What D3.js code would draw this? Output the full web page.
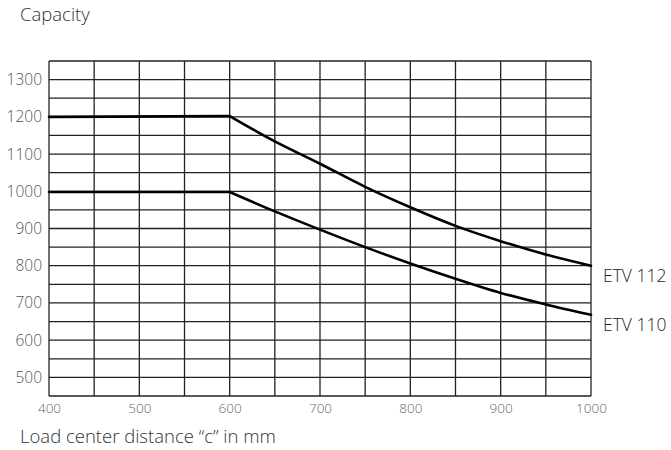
<!DOCTYPE html>
<html>
<head>
<meta charset="utf-8">
<script src="https://d3js.org/d3.v7.min.js"></script>
<style>
  body { margin: 0; background: #fff; }
  svg { display: block; font-family: "Open Sans", Lato, sans-serif; }
</style>
</head>
<body>
<div id="chart"></div>
<script>
// data
var distances = [400, 600, 650, 700, 750, 800, 850, 900, 950, 1000];
var etv112 = [1200, 1202, 1134, 1074, 1012, 957, 907, 866, 830, 800];
var etv110 = [998, 998, 946, 897, 850, 806, 765, 727, 696, 668];
var seriesNames = ["ETV 112", "ETV 110"];
var xTicks = [400, 500, 600, 700, 800, 900, 1000];
var yTicks = [500, 600, 700, 800, 900, 1000, 1100, 1200, 1300];

var width = 671, height = 450;
var margin = {top: 61, right: 80, bottom: 54, left: 49};
var w = width - margin.left - margin.right,
    h = height - margin.top - margin.bottom;

var svg = d3.select("#chart").append("svg")
    .attr("width", width)
    .attr("height", height);

var g = svg.append("g")
    .attr("transform", "translate(" + margin.left + "," + margin.top + ")");

//////// SCALES ////////
var x = d3.scaleLinear().domain([400, 1000]).range([0, w]);
var y = d3.scaleLinear().domain([450, 1350]).range([h, 0]);

//////// GRID ////////
g.append("g").attr("class", "grid")
    .selectAll("line.v")
    .data(d3.range(400, 1001, 50))
    .enter().append("line")
        .attr("x1", function(d) { return x(d); })
        .attr("x2", function(d) { return x(d); })
        .attr("y1", 0)
        .attr("y2", h)
        .attr("stroke", "#222")
        .attr("stroke-width", 1.3);

g.append("g").attr("class", "grid")
    .selectAll("line.h")
    .data(d3.range(450, 1351, 50))
    .enter().append("line")
        .attr("x1", 0)
        .attr("x2", w)
        .attr("y1", function(d) { return y(d); })
        .attr("y2", function(d) { return y(d); })
        .attr("stroke", "#222")
        .attr("stroke-width", 1.3);

//////// AXES ////////
var xAxis = g.append("g")
    .attr("transform", "translate(0," + h + ")")
    .call(d3.axisBottom(x).tickValues(xTicks).tickFormat(d3.format("d")).tickSize(0).tickPadding(7));
xAxis.select(".domain").remove();
xAxis.selectAll("text")
    .attr("fill", "#666")
    .attr("font-size", 13.5)
    .attr("font-weight", 300)
    .attr("font-family", "'Open Sans', Lato, sans-serif");

var yAxis = g.append("g")
    .call(d3.axisLeft(y).tickValues(yTicks).tickFormat(d3.format("d")).tickSize(0).tickPadding(7));
yAxis.select(".domain").remove();
yAxis.selectAll("text")
    .attr("fill", "#555")
    .attr("font-size", 15.5)
    .attr("font-weight", 300)
    .attr("font-family", "'Open Sans', Lato, sans-serif");

//////// LINES ////////
// flat part straight, falling part smooth
var flatLine = d3.line()
    .x(function(d) { return x(d[0]); })
    .y(function(d) { return y(d[1]); })
    .curve(d3.curveLinear);

var dropLine = d3.line()
    .x(function(d) { return x(d[0]); })
    .y(function(d) { return y(d[1]); })
    .curve(d3.curveMonotoneX);

[etv112, etv110].forEach(function(vals, i) {
    var pts = distances.map(function(dd, j) { return [dd, vals[j]]; });

    g.append("path")
        .datum(pts.slice(0, 2))
        .attr("fill", "none")
        .attr("stroke", "#000")
        .attr("stroke-width", 2.6)
        .attr("stroke-linecap", "round")
        .attr("d", flatLine);

    g.append("path")
        .datum(pts.slice(1))
        .attr("fill", "none")
        .attr("stroke", "#000")
        .attr("stroke-width", 2.6)
        .attr("stroke-linecap", "round")
        .attr("d", dropLine);

    g.append("text")
        .attr("x", x(1000) + 12)
        .attr("y", y(vals[vals.length - 1]) + 16)
        .attr("font-size", 17.5)
        .attr("font-weight", 300)
        .attr("fill", "#222")
        .text(seriesNames[i]);
});

//////// TITLES ////////
svg.append("text")
    .attr("x", 20)
    .attr("y", 21)
    .attr("font-size", 18.5)
    .attr("font-weight", 300)
    .attr("fill", "#333")
    .text("Capacity");

svg.append("text")
    .attr("x", 20)
    .attr("y", 443)
    .attr("font-size", 18.5)
    .attr("font-weight", 300)
    .attr("fill", "#333")
    .text("Load center distance \u201Cc\u201D in mm");
</script>
</body>
</html>
